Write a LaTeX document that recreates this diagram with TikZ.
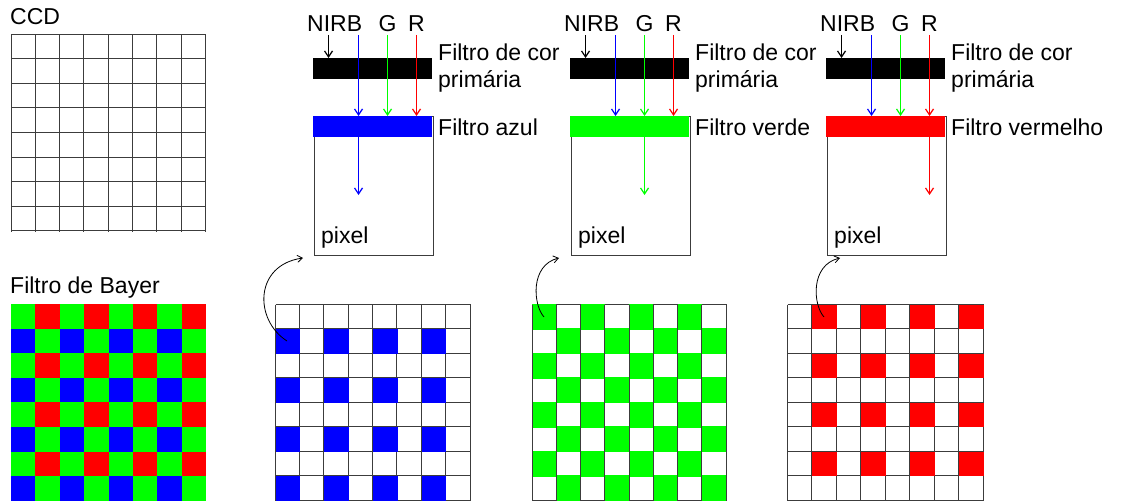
\documentclass[tikz,border=0pt]{standalone}
\usepackage{fontspec}
\setmainfont{Liberation Sans}
\usetikzlibrary{arrows.meta}
\definecolor{cB}{RGB}{0,0,255}
\definecolor{cG}{RGB}{0,255,0}
\definecolor{cR}{RGB}{255,0,0}
\definecolor{gridc}{RGB}{60,60,60}
\begin{document}
\begin{tikzpicture}[x=1pt,y=-1pt,
  lbl/.style={inner sep=0pt, anchor=base west, font=\fontsize{23}{28}\selectfont},
  gridline/.style={draw=gridc, line width=1pt, line cap=square},
  ray/.style={line width=1.2pt, -{Straight Barb[length=6pt,width=8pt]}},
  bar/.style={inner sep=0pt, anchor=north west, minimum width=119pt, minimum height=21pt},
  pixbox/.style={draw=gridc, line width=1pt, inner sep=0pt, anchor=north west, minimum width=119pt, minimum height=139pt},
  link/.style={line width=0.8pt, -{Straight Barb[length=5pt,width=7pt]}}
]
\useasboundingbox[fill=white] (0,0) rectangle (1121,503);

% ---------- CCD ----------
\node[lbl] (ccdlbl) at (10,25) {CCD};
\begin{scope}[shift={(11,34)}]
  \foreach \k in {0,...,8} {
    \pgfmathsetmacro\xx{floor(\k*24.3)+0.5}
    \pgfmathsetmacro\yy{floor(\k*24.62)+0.5}
    \draw[gridline] (\xx,0.5) -- (\xx,197.5);
    \draw[gridline] (0.5,\yy) -- (194.5,\yy);
  }
\end{scope}

% ---------- Bayer ----------
\node[lbl] (bayerlbl) at (10,293) {Filtro de Bayer};
\begin{scope}[shift={(11,304)}]
  \fill[cG] (0,0) rectangle (195.2,196.8);
  \foreach \r in {0,2,4,6} \foreach \c in {1,3,5,7}
    \fill[cR] (\c*24.4,\r*24.6) rectangle ++(24.4,24.6);
  \foreach \r in {1,3,5,7} \foreach \c in {0,2,4,6}
    \fill[cB] (\c*24.4,\r*24.6) rectangle ++(24.4,24.6);
\end{scope}

% ---------- blue grid ----------
\begin{scope}[shift={(275,304)}]
  \foreach \k in {0,...,8} {
    \pgfmathsetmacro\xx{floor(\k*24.4)+0.5}
    \pgfmathsetmacro\yy{floor(\k*24.5)+0.5}
    \draw[gridline] (\xx,0.5) -- (\xx,196.5);
    \draw[gridline] (0.5,\yy) -- (195.5,\yy);
  }
  \foreach \r in {1,3,5,7} \foreach \c in {0,2,4,6}
    \fill[cB] (\c*24.4+0.5,\r*24.5+0.5) rectangle ++(24.4,24.5);
  \coordinate (c1) at (12,37);
\end{scope}

% ---------- green grid ----------
\begin{scope}[shift={(532,304)}]
  \foreach \k in {0,...,8} {
    \pgfmathsetmacro\yy{floor(\k*24.5)+0.5}
    \draw[gridline] (0.5,\yy) -- (194.5,\yy);
  }
  \foreach \r in {0,2,4,6} \foreach \c in {0,2,4,6}
    \fill[cG] (\c*24.25,\r*24.5-0.5) rectangle ++(24.25,26);
  \foreach \r in {1,3,5,7} \foreach \c in {1,3,5,7}
    \fill[cG] (\c*24.25,\r*24.5-0.5) rectangle ++(24.25,26);
  \foreach \k in {0,...,8} {
    \pgfmathsetmacro\xx{floor(\k*24.25)+0.5}
    \draw[gridline] (\xx,0.5) -- (\xx,196.5);
  }
  \coordinate (c2) at (12,13);
\end{scope}

% ---------- red grid ----------
\begin{scope}[shift={(787,304)}]
  \foreach \k in {0,...,8} {
    \pgfmathsetmacro\xx{floor(\k*24.5)+0.5}
    \draw[gridline] (\xx,0.5) -- (\xx,196.5);
    \draw[gridline] (0.5,\xx) -- (196.5,\xx);
  }
  \foreach \r in {0,2,4,6} \foreach \c in {1,3,5,7}
    \fill[cR] (\c*24.5+0.5,\r*24.5+0.5) rectangle ++(24.5,24.5);
  \coordinate (c3) at (37,13);
\end{scope}

% ---------- pixel boxes ----------
\foreach \i/\dx/\cc/\lab/\k in {1/0/cB/{Filtro azul}/45, 2/257/cG/{Filtro verde}/74, 3/513/cR/{Filtro vermelho}/103} {
  \node[pixbox] (pix\i) at (313.5+\dx,116) {};
  \node[bar, fill=black] (pf\i) at (313+\dx,58) {};
  \node[bar, fill=\cc] (cf\i) at (313+\dx,116) {};
  \node[lbl] (nirb\i) at (307+\dx,32) {NIRB};
  \node[lbl, anchor=base] (g\i) at (387.5+\dx,32) {G};
  \node[lbl, anchor=base] (r\i) at (416.5+\dx,32) {R};
  \node[lbl] (pfa\i) at (438+\dx,60) {Filtro de cor};
  \node[lbl] (pfb\i) at (438+\dx,88) {primária};
  \node[lbl] (cfl\i) at (438+\dx,135) {\lab};
  \node[lbl] (px\i) at (321+\dx,243) {pixel};
  \coordinate (sn\i) at (328.5+\dx,35);
  \coordinate (sb\i) at (358.5+\dx,35);
  \coordinate (sg\i) at (387.5+\dx,35);
  \coordinate (sr\i) at (416.5+\dx,35);
  \coordinate (pe\i) at (313.5+\k+\dx,195);
  \draw[ray, black] (sn\i) -- (sn\i |- pf\i.north);
  \draw[ray, cB] (sb\i) -- (sb\i |- cf\i.north);
  \draw[ray, cG] (sg\i) -- (sg\i |- cf\i.north);
  \draw[ray, cR] (sr\i) -- (sr\i |- cf\i.north);
  \draw[ray, \cc] (pe\i |- cf\i.north) -- (pe\i);
}

% ---------- links from grid cells to pixels ----------
\coordinate (t1) at (303,258);
\coordinate (t2) at (559,258);
\coordinate (t3) at (840,258);
\draw[link] (c1) .. controls (254,320) and (254,265) .. (t1);
\draw[link] (c2) .. controls (533,305) and (530,265) .. (t2);
\draw[link] (c3) .. controls (813,305) and (810,265) .. (t3);
\end{tikzpicture}
\end{document}
